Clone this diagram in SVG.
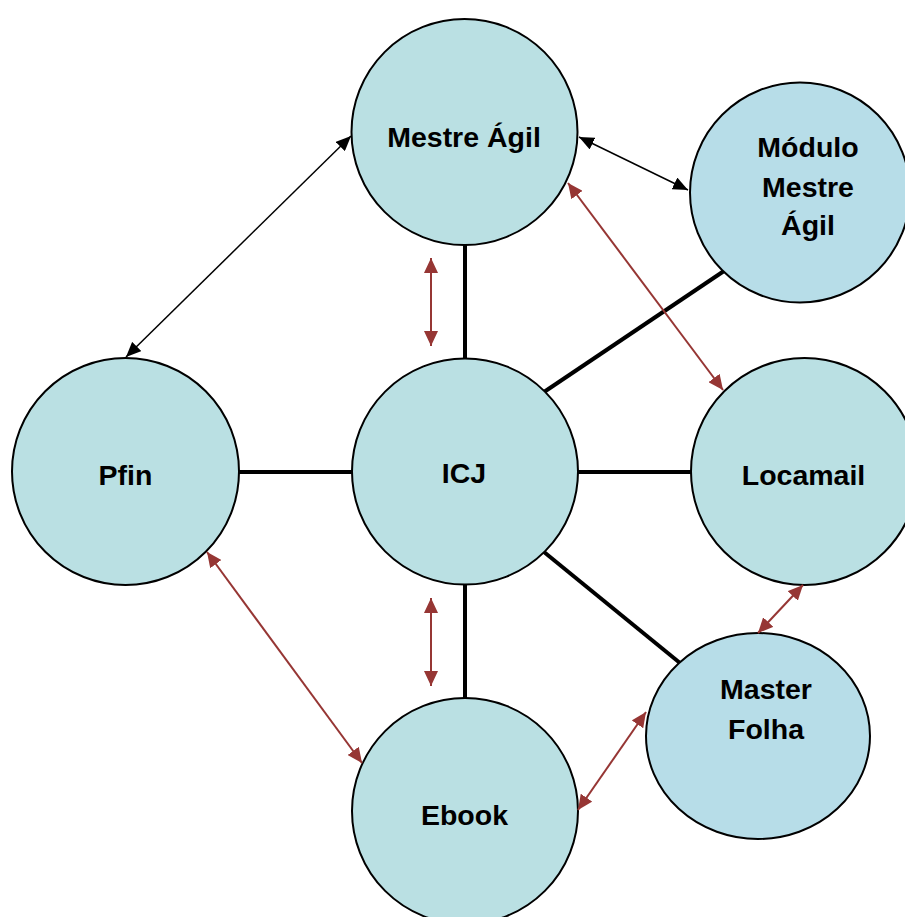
<svg xmlns="http://www.w3.org/2000/svg" width="905" height="917" viewBox="0 0 905 917">
<style>
.n{fill:#bae0e3;stroke:#000;stroke-width:2}
.n2{fill:#b7dde8;stroke:#000;stroke-width:2}
.t{font-family:"Liberation Sans",Arial,sans-serif;font-weight:bold;font-size:28.5px;fill:#000;text-anchor:middle}
.thick{stroke:#000;stroke-width:4;fill:none}
.blk{stroke:#000;stroke-width:1.5;fill:none;marker-start:url(#ab);marker-end:url(#ab)}
.red{stroke:#963634;stroke-width:2;fill:none;marker-start:url(#ar);marker-end:url(#ar)}
</style>
<defs>
<marker id="ab" markerUnits="userSpaceOnUse" markerWidth="15" markerHeight="13" refX="15" refY="6.5" orient="auto-start-reverse"><path d="M0,0 L15,6.5 L0,13 z" fill="#000"/></marker>
<marker id="ar" markerUnits="userSpaceOnUse" markerWidth="15" markerHeight="14" refX="15" refY="7" orient="auto-start-reverse"><path d="M0,0 L15,7 L0,14 z" fill="#963634"/></marker>
</defs>
<rect width="905" height="917" fill="#fff"/>
<g id="connectors-lines">
<line class="thick" x1="465" y1="245" x2="465" y2="358"/>
<line class="thick" x1="239" y1="472" x2="352" y2="472"/>
<line class="thick" x1="578" y1="472" x2="691" y2="472"/>
<line class="thick" x1="465" y1="585" x2="465" y2="698"/>
<line class="thick" x1="544" y1="392" x2="724" y2="271"/>
<line class="thick" x1="544" y1="552" x2="680" y2="663"/>
</g>
<g id="mestre-agil"><circle class="n" cx="464.5" cy="132" r="113"/><text class="t" x="464" y="147">Mestre Ágil</text></g>
<g id="modulo-mestre-agil"><circle class="n2" cx="800" cy="192.5" r="110"/><text class="t" x="808" y="157">Módulo</text><text class="t" x="808" y="197">Mestre</text><text class="t" x="808" y="235">Ágil</text></g>
<g id="pfin"><circle class="n" cx="125.5" cy="471.5" r="113.5"/><text class="t" x="125.5" y="485">Pfin</text></g>
<g id="icj"><circle class="n" cx="465" cy="471.5" r="113"/><text class="t" x="464" y="483">ICJ</text></g>
<g id="locamail"><circle class="n" cx="804.5" cy="471.5" r="113.5"/><text class="t" x="803.5" y="485">Locamail</text></g>
<g id="master-folha"><ellipse class="n2" cx="758" cy="736" rx="112" ry="103"/><text class="t" x="766" y="699">Master</text><text class="t" x="766" y="739">Folha</text></g>
<g id="ebook"><circle class="n" cx="465" cy="811" r="113"/><text class="t" x="464.5" y="825">Ebook</text></g>
<g id="connectors">
<line class="blk" x1="351" y1="136" x2="126" y2="357"/>
<line class="blk" x1="579" y1="137" x2="688" y2="190"/>
<line class="red" x1="568" y1="183" x2="723" y2="390"/>
<line class="red" x1="431" y1="258" x2="431" y2="346"/>
<line class="red" x1="431" y1="598" x2="431" y2="686"/>
<line class="red" x1="207" y1="552" x2="362" y2="763"/>
<line class="red" x1="803" y1="585" x2="758" y2="633"/>
<line class="red" x1="646" y1="712" x2="578" y2="810"/>
</g>
</svg>
